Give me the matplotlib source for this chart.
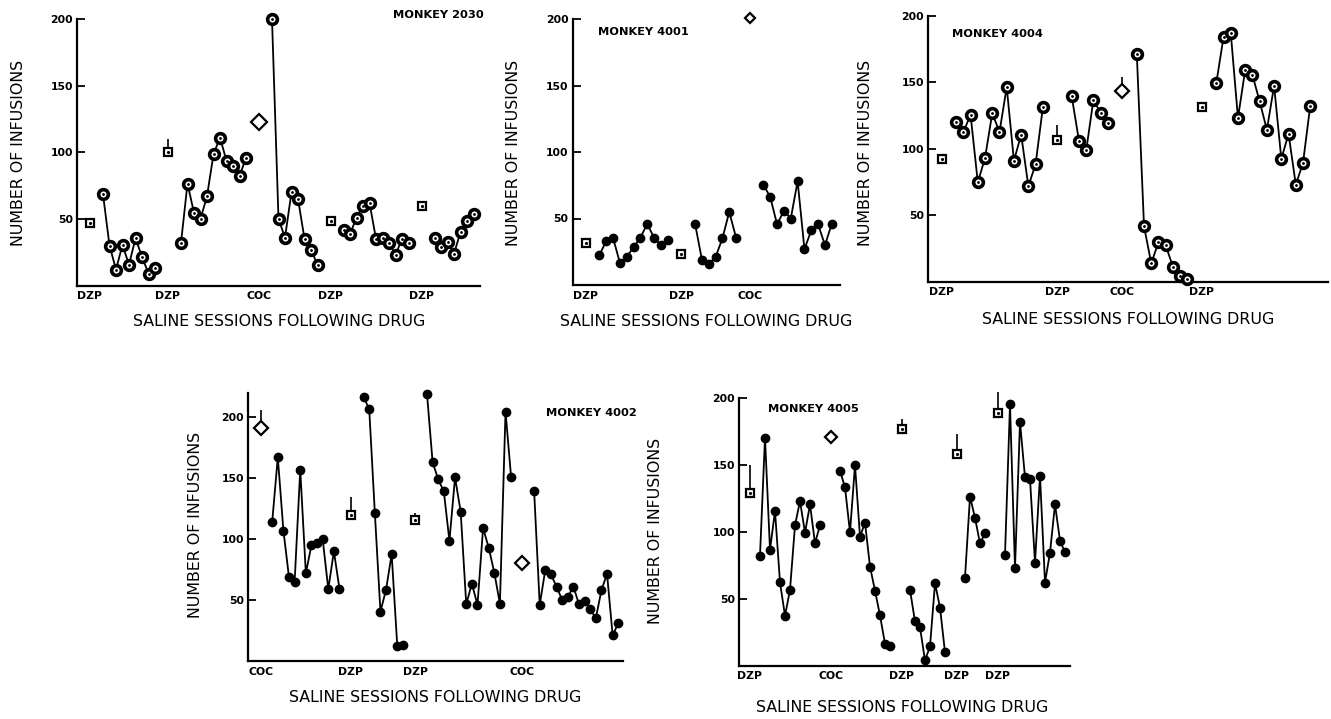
import matplotlib
matplotlib.use("Agg")
import matplotlib.pyplot as plt
from matplotlib import font_manager as fm

# --- data (sessions on x, infusions on y) ---

M2030_DRUG_LABELS = ["DZP", "DZP", "COC", "DZP", "DZP"]
M2030_DRUG_X = [0, 12, 26, 37, 51]
M2030_DRUG_Y = [47, 100.5, 123, 48.75, 60]
M2030_ARROW_TOP = [None, 110, None, None, None]
M2030_SEG_START = [2, 14, 28, 39, 53]
M2030_SEGMENTS = [
    [68.5, 30, 12, 30.5, 15.5, 35.5, 21.5, 9, 13.5],
    [32, 76.5, 54.5, 50, 67, 98.5, 111, 93.5, 90, 82, 96],
    [200, 50, 36, 70, 65, 35, 27, 15.5],
    [42, 38.5, 51, 60, 62, 35, 36, 32, 23, 35, 32],
    [36, 29, 33, 24, 40, 48.5, 54],
]

M4001_DRUG_LABELS = ["DZP", "DZP", "COC"]
M4001_DRUG_X = [0, 14, 24]
M4001_DRUG_Y = [31.75, 23, 201]
M4001_ARROW_TOP = [None, None, None]
M4001_SEG_START = [2, 16, 26]
M4001_SEGMENTS = [
    [22.5, 33, 35.5, 16.75, 21, 28.5, 35.5, 46, 35.5, 29.75, 33.5],
    [46, 19, 16, 21, 35, 55, 35.5],
    [75.5, 66, 45.5, 56, 50, 78, 27, 41, 45.5, 30, 46],
]

M4004_DRUG_LABELS = ["DZP", "DZP", "COC", "DZP"]
M4004_DRUG_X = [0, 16, 25, 36]
M4004_DRUG_Y = [92.5, 106.75, 143.75, 131.25]
M4004_ARROW_TOP = [None, 118, 153.75, None]
M4004_SEG_START = [2, 18, 27, 38]
M4004_SEGMENTS = [
    [120, 112.5, 125.5, 74.75, 93, 126.75, 112.5, 146.25, 91, 110.5, 71.75, 88.5, 131],
    [139.25, 106, 98.75, 136.75, 126.75, 119.25],
    [171.25, 41.75, 13.75, 29.75, 27.25, 11.25, 4.25, 2.25],
    [149.25, 183.75, 187.25, 123, 159.25, 155.5, 135.5, 114.25, 147.25, 92.25,
     111.25, 73, 89.25, 132.25],
]

M4002_DRUG_LABELS = ["COC", "DZP", "DZP", "COC"]
M4002_DRUG_X = [0, 16, 27.5, 46.6]
M4002_DRUG_Y = [190.7, 119.7, 115.6, 80.6]
M4002_ARROW_TOP = [205.7, 134.7, 121.6, None]
M4002_SEG_START = [2, 18.3, 29.6, 48.7]
M4002_SEGMENTS = [
    [114, 167, 107, 68.5, 65, 157, 72, 95, 96.5, 100, 59, 90, 59],
    [216.5, 206.5, 121.5, 40.5, 58.5, 87.5, 12.5, 13.5],
    [219, 163, 149, 139, 98.5, 150.5, 122.5, 46.5, 63.5, 46, 109, 93, 72.5, 47,
     204.5, 150.5],
    [139.5, 46, 75, 71, 61, 50, 52.5, 61, 46.5, 49, 42.5, 35, 58, 71.5, 21, 31],
]

M4005_DRUG_LABELS = ["DZP", "COC", "DZP", "DZP", "DZP"]
M4005_DRUG_X = [0, 16.3, 30.3, 41.3, 49.5]
M4005_DRUG_Y = [128.9, 171, 177, 158.7, 189]
M4005_ARROW_TOP = [150, None, 184.8, 173.6, 204.7]
M4005_SEG_START = [2, 18, 32, 43, 51]
M4005_SEGMENTS = [
    [82.3, 170.6, 86.6, 115.7, 62.4, 37.3, 56.7, 105, 123.1, 99.5, 120.6, 91.5, 105.2],
    [145.8, 133.3, 99.8, 150, 96.5, 107, 74.1, 56.2, 37.6, 16.4, 14.9],
    [56.7, 33.1, 28.6, 4, 14.4, 61.7, 43.5, 10],
    [65.9, 126.4, 110.7, 91.5, 99],
    [82.8, 195.5, 72.9, 182.3, 140.8, 139.6, 77.1, 142, 62.2, 84.6, 120.6, 93.5, 84.8],
]

Y_TICKS = [50, 100, 150, 200]

W, H = 1331, 719


def pick_font(names):
    """Eerste geinstalleerde familie uit de lijst."""
    for n in names:
        try:
            fm.findfont(fm.FontProperties(family=n), fallback_to_default=False)
            return n
        except ValueError:
            pass
    return "DejaVu Sans"


FONT = pick_font(["Liberation Sans Narrow", "DejaVu Sans"])
NARROW = FONT != "DejaVu Sans"
LABEL_SIZE = 13 if NARROW else 11.4
TICK_SIZE = 10 if NARROW else 7.8
TITLE_SIZE = 10.5 if NARROW else 8.2

plt.rcParams["font.family"] = [FONT, "DejaVu Sans"]

# panels: (title, labels, xs, ys, arrows, starts, segs,
#          pixel box (left, right, y0, ytop px), ytop, xlim, ring markers, diamond size,
#          title pos (axes frac), title ha, ylabel px, xlabel px)
PANELS = [
    ("MONKEY 2030", M2030_DRUG_LABELS, M2030_DRUG_X, M2030_DRUG_Y, M2030_ARROW_TOP,
     M2030_SEG_START, M2030_SEGMENTS, (77, 480, 285.5, 19), 200, (-2.0, 60.0), True, 8.5,
     (1.01, 1.015), "right", (19, 153), (279, 322)),
    ("MONKEY 4001", M4001_DRUG_LABELS, M4001_DRUG_X, M4001_DRUG_Y, M4001_ARROW_TOP,
     M4001_SEG_START, M4001_SEGMENTS, (572.7, 840, 285, 19), 200, (-1.9, 37.2), False, 5,
     (0.095, 0.951), "left", (513, 153), (706, 322)),
    ("MONKEY 4004", M4004_DRUG_LABELS, M4004_DRUG_X, M4004_DRUG_Y, M4004_ARROW_TOP,
     M4004_SEG_START, M4004_SEGMENTS, (928.3, 1328.3, 281.7, 15.7), 200, (-1.85, 53.5), True, 7,
     (0.0585, 0.931), "left", (865, 153), (1128, 320)),
    ("MONKEY 4002", M4002_DRUG_LABELS, M4002_DRUG_X, M4002_DRUG_Y, M4002_ARROW_TOP,
     M4002_SEG_START, M4002_SEGMENTS, (248.3, 623.3, 661, 392.7), 220, (-2.26, 64.6), False, 7,
     (1.036, 0.925), "right", (195, 525), (435, 698)),
    ("MONKEY 4005", M4005_DRUG_LABELS, M4005_DRUG_X, M4005_DRUG_Y, M4005_ARROW_TOP,
     M4005_SEG_START, M4005_SEGMENTS, (739.3, 1070, 665.7, 398.3), 200, (-2.14, 64.0), False, 6,
     (0.087, 0.96), "left", (655, 531), (902, 708)),
]

fig = plt.figure(figsize=(W / 100, H / 100), dpi=100)
fig.patch.set_facecolor("white")

for (title, labels, xs, ys, arrows, starts, segs, box, ytop, xlim, ring, dsize,
     tpos, tha, ylab, xlab) in PANELS:
    left, right, y0, yt = box
    ax = fig.add_axes([left / W, (H - y0) / H, (right - left) / W, (y0 - yt) / H])
    ax.set_xlim(*xlim)
    ax.set_ylim(0, ytop)
    for s in ("top", "right"):
        ax.spines[s].set_visible(False)
    for s in ("left", "bottom"):
        ax.spines[s].set_linewidth(1.6)
    ax.spines["left"].set_bounds(0, ytop)

    # sessies na het middel
    for start, vals in zip(starts, segs):
        sx = [start + i for i in range(len(vals))]
        if ring:
            ax.plot(sx, vals, "-", color="black", lw=1.3, marker="o", ms=7,
                    mfc="white", mec="black", mew=2.6, clip_on=False, zorder=3)
            ax.plot(sx, vals, ".", color="black", ms=2, clip_on=False, zorder=4)
        else:
            ax.plot(sx, vals, "-", color="black", lw=1.3, marker="o", ms=6,
                    mfc="black", mec="black", clip_on=False, zorder=3)

    # drug-sessies: vierkant = DZP, ruit = COC
    for lab, x, y, top in zip(labels, xs, ys, arrows):
        if lab == "COC":
            ax.plot([x], [y], marker="D", ms=dsize, mfc="white", mec="black",
                    mew=1.6, clip_on=False, zorder=4)
        else:
            ax.plot([x], [y], marker="s", ms=6, mfc="white", mec="black",
                    mew=1.6, clip_on=False, zorder=4)
            ax.plot([x], [y], marker=".", ms=2.5, color="black", clip_on=False, zorder=5)
        if top is not None:
            ax.vlines(x, y + 3, top, color="black", lw=1.2, clip_on=False)

    ax.set_yticks(Y_TICKS)
    ax.set_yticklabels([str(t) for t in Y_TICKS], fontsize=TICK_SIZE, fontweight="bold")
    ax.tick_params(axis="y", direction="in", length=6, width=1.3, pad=3)
    ax.set_xticks(xs)
    ax.set_xticklabels(labels, fontsize=TICK_SIZE, fontweight="bold")
    ax.tick_params(axis="x", length=0, pad=4)

    ax.text(tpos[0], tpos[1], title, transform=ax.transAxes, ha=tha, va="center",
            fontsize=TITLE_SIZE, fontweight="bold")

    fig.text(ylab[0] / W, 1 - ylab[1] / H, "NUMBER OF INFUSIONS", rotation=90,
             ha="center", va="center", fontsize=LABEL_SIZE)
    fig.text(xlab[0] / W, 1 - xlab[1] / H, "SALINE SESSIONS FOLLOWING DRUG",
             ha="center", va="center", fontsize=LABEL_SIZE)

fig.savefig("out.png", dpi=100, facecolor="white")
